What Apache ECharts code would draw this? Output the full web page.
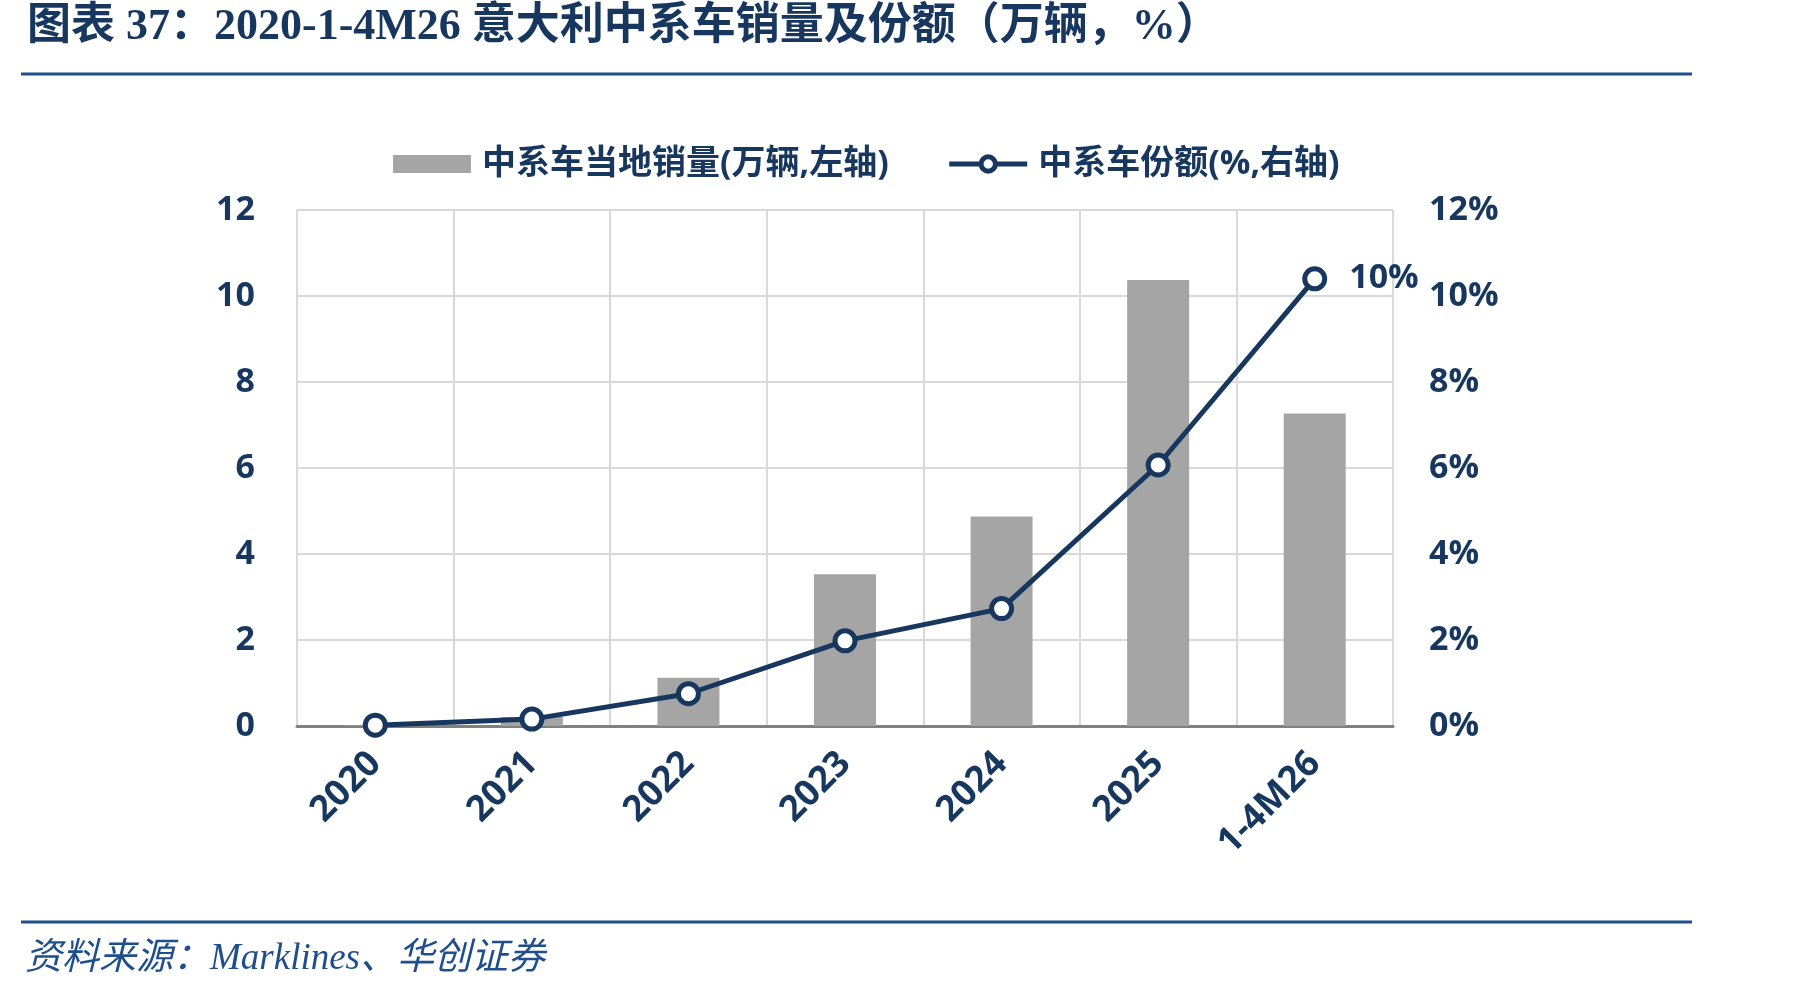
<!DOCTYPE html>
<html>
<head>
<meta charset="utf-8">
<script src="https://cdn.jsdelivr.net/npm/echarts@6/dist/echarts.min.js"></script>
<style>
	html, body { margin: 0; padding: 0; background: #fff; }
	#chart { width: 1801px; height: 991px; }
</style>
</head>
<body>
<div id="chart"></div>
<script>
var years = ['2020', '2021', '2022', '2023', '2024', '2025', '1-4M26'];
var sales = [0.01, 0.21, 1.12, 3.53, 4.87, 10.37, 7.27];   // 万辆
var share = [0.02, 0.16, 0.75, 1.98, 2.73, 6.07, 10.4];    // %
var leftTicks = [0, 2, 4, 6, 8, 10, 12];

var navy = '#17375E';
var rule = '#1F4E8C';

let chart = echarts.init(document.getElementById('chart'));

let shareData = share.map(function(v, i) {
	if (i == share.length - 1) {
		return {
			value: v,
			label: {
				show: true,
				position: 'right',
				distance: 22,
				formatter: Math.round(v) + '%',
				color: navy,
				fontSize: 34,
				fontWeight: 'bold',
				fontFamily: 'Open Sans'
			}
		};
	}
	return v;
});

let option = {
	animation: false,
	title: {
		text: '图表 37：2020-1-4M26 意大利中系车销量及份额（万辆，%）',
		left: 22,
		top: 1,
		textStyle: {
			color: navy,
			fontSize: 44,
			fontWeight: 'bold',
			fontFamily: '"Liberation Serif", "Noto Sans CJK SC"'
		}
	},
	graphic: [
		{ type: 'line', shape: { x1: 21, y1: 74, x2: 1692, y2: 74 }, style: { stroke: rule, lineWidth: 3 } },
		{ type: 'line', shape: { x1: 21, y1: 922, x2: 1692, y2: 922 }, style: { stroke: rule, lineWidth: 3 } },
		{
			type: 'text', left: 25, top: 941,
			style: {
				text: '资料来源：Marklines、华创证券',
				fill: rule,
				font: 'italic 37px "Liberation Serif", "Noto Sans CJK SC"'
			}
		}
	],
	legend: {
		left: 388,
		top: 142,
		itemWidth: 78,
		itemHeight: 18,
		itemGap: 58,
		textStyle: {
			color: navy,
			fontSize: 34,
			fontWeight: 'bold',
			fontFamily: '"Open Sans", "Noto Sans CJK SC"',
			padding: [0, 0, 0, 6]
		},
		data: [
			{ name: '中系车当地销量(万辆,左轴)', icon: 'rect' },
			{
				name: '中系车份额(%,右轴)',
				lineStyle: { width: 5 },
				itemStyle: { borderWidth: 5 }
			}
		]
	},
	grid: {
		left: 297,
		right: 408,
		top: 210,
		bottom: 265
	},
	xAxis: {
		type: 'category',
		data: years,
		axisLine: { lineStyle: { color: '#808080', width: 3 } },
		axisTick: { show: false },
		splitLine: { show: true, interval: 0, lineStyle: { color: '#D9D9D9', width: 2 } },
		axisLabel: {
			rotate: 45,
			interval: 0,
			margin: 32,
			color: navy,
			fontSize: 36,
			fontWeight: 'bold',
			fontFamily: 'Open Sans'
		}
	},
	yAxis: [
		{
			type: 'value',
			min: leftTicks[0],
			max: leftTicks[leftTicks.length - 1],
			interval: 2,
			axisLine: { show: true, lineStyle: { color: '#D9D9D9', width: 2 } },
			axisTick: { show: false },
			splitLine: { show: true, lineStyle: { color: '#D9D9D9', width: 2 } },
			axisLabel: {
				margin: 42,
				color: navy,
				fontSize: 34,
				fontWeight: 'bold',
				fontFamily: 'Open Sans'
			}
		},
		{
			type: 'value',
			min: 0,
			max: 12,
			interval: 2,
			axisLine: { show: false },
			axisTick: { show: false },
			splitLine: { show: false },
			axisLabel: {
				margin: 36,
				formatter: '{value}%',
				color: navy,
				fontSize: 34,
				fontWeight: 'bold',
				fontFamily: 'Open Sans'
			}
		}
	],
	series: [
		{
			name: '中系车当地销量(万辆,左轴)',
			type: 'bar',
			data: sales,
			barWidth: 62,
			itemStyle: { color: '#A5A5A5' }
		},
		{
			name: '中系车份额(%,右轴)',
			type: 'line',
			yAxisIndex: 1,
			data: shareData,
			symbol: 'circle',
			symbolSize: 20,
			lineStyle: { color: navy, width: 5 },
			itemStyle: { color: '#fff', borderColor: navy, borderWidth: 5 },
			z: 5
		}
	]
};

chart.setOption(option);
</script>
</body>
</html>
